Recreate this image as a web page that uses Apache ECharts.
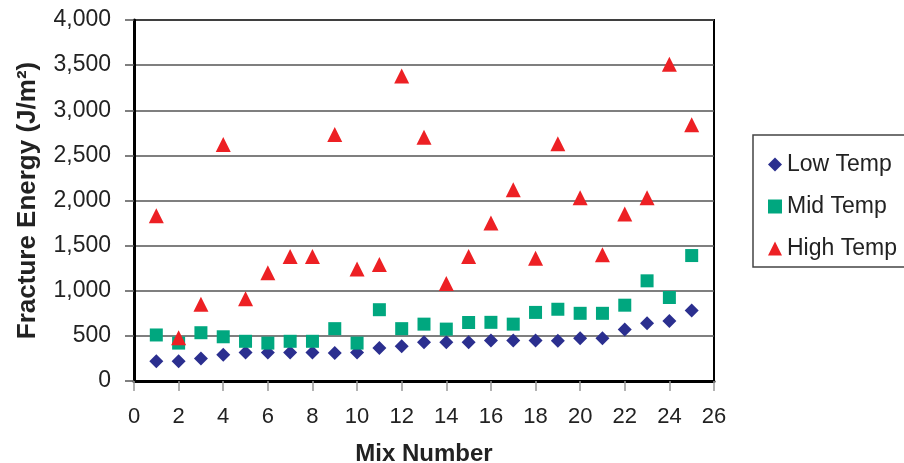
<!DOCTYPE html>
<html><head><meta charset="utf-8">
<script src="https://cdn.jsdelivr.net/npm/echarts@6/dist/echarts.min.js"></script>
<style>html,body{margin:0;padding:0;background:#fff}#c{width:904px;height:463px}</style>
</head><body><div id="c"></div>
<script>
const mixNumbers = [1,2,3,4,5,6,7,8,9,10,11,12,13,14,15,16,17,18,19,20,21,22,23,24,25];
const lowTemp  = [220,220,250,290,315,315,315,315,310,315,365,385,430,430,428,450,450,450,445,475,475,570,640,665,780];
const midTemp  = [510,420,535,490,440,420,440,440,580,420,790,580,630,575,648,650,630,760,795,750,750,840,1110,925,1390];
const highTemp = [1830,480,850,2620,910,1200,1380,1380,2730,1240,1290,3380,2700,1080,1380,1750,2120,1360,2630,2030,1400,1850,2030,3510,2840];
const yTicks = [0,500,1000,1500,2000,2500,3000,3500,4000];

const pairs = v => mixNumbers.map((x,i)=>[x,v[i]]);
const font = 'Arial, "Liberation Sans", sans-serif';
const chart = echarts.init(document.getElementById('c'));
chart.setOption({
  animation:false,
  backgroundColor:'#fff',
  grid:{left:134, top:20, width:580, height:361, show:true, borderColor:'#000', borderWidth:2,
    containLabel:false, outerBoundsMode:'none'},
  xAxis:{type:'value', min:0, max:26, interval:2,
    name:'Mix Number', nameLocation:'middle', nameGap:61,
    nameTextStyle:{fontFamily:font, fontSize:24, fontWeight:'bold', color:'#222'},
    axisLine:{show:true, onZero:false, lineStyle:{color:'#000', width:3}},
    axisTick:{show:true, length:10, lineStyle:{color:'#999', width:1.5}},
    axisLabel:{fontFamily:font, fontSize:22, color:'#222', margin:25},
    splitLine:{show:false}},
  yAxis:{type:'value', min:0, max:4000, interval:500,
    name:'Fracture Energy (J/m²)', nameLocation:'middle', nameGap:93,
    nameTextStyle:{fontFamily:font, fontSize:26, fontWeight:'bold', color:'#222'},
    axisLine:{show:true, lineStyle:{color:'#000', width:3}},
    axisTick:{show:true, length:9, lineStyle:{color:'#555', width:1.5}},
    axisLabel:{fontFamily:font, fontSize:23, color:'#222', margin:23,
      formatter:v=>v.toLocaleString('en-US')},
    splitLine:{show:true, lineStyle:{color:'#555', width:1.5}}},
  legend:{orient:'vertical', left:763, top:148, itemGap:19, itemWidth:14, itemHeight:14,
    textStyle:{fontFamily:font, fontSize:23, color:'#222'},
    data:[{name:'Low Temp', icon:'diamond'},{name:'Mid Temp', icon:'rect'},{name:'High Temp', icon:'triangle'}]},
  graphic:[{type:'rect', shape:{x:753, y:135, width:200, height:132},
    style:{fill:'none', stroke:'#444', lineWidth:1.5}}],
  series:[
    {name:'Low Temp', type:'scatter', symbol:'diamond', symbolSize:14, itemStyle:{color:'#2B2F8F', opacity:1}, data:pairs(lowTemp)},
    {name:'Mid Temp', type:'scatter', symbol:'rect', symbolSize:13, itemStyle:{color:'#00A77F', opacity:1}, data:pairs(midTemp)},
    {name:'High Temp', type:'scatter', symbol:'triangle', symbolSize:15, itemStyle:{color:'#ED2024', opacity:1}, data:pairs(highTemp)}
  ]
});
</script></body></html>
